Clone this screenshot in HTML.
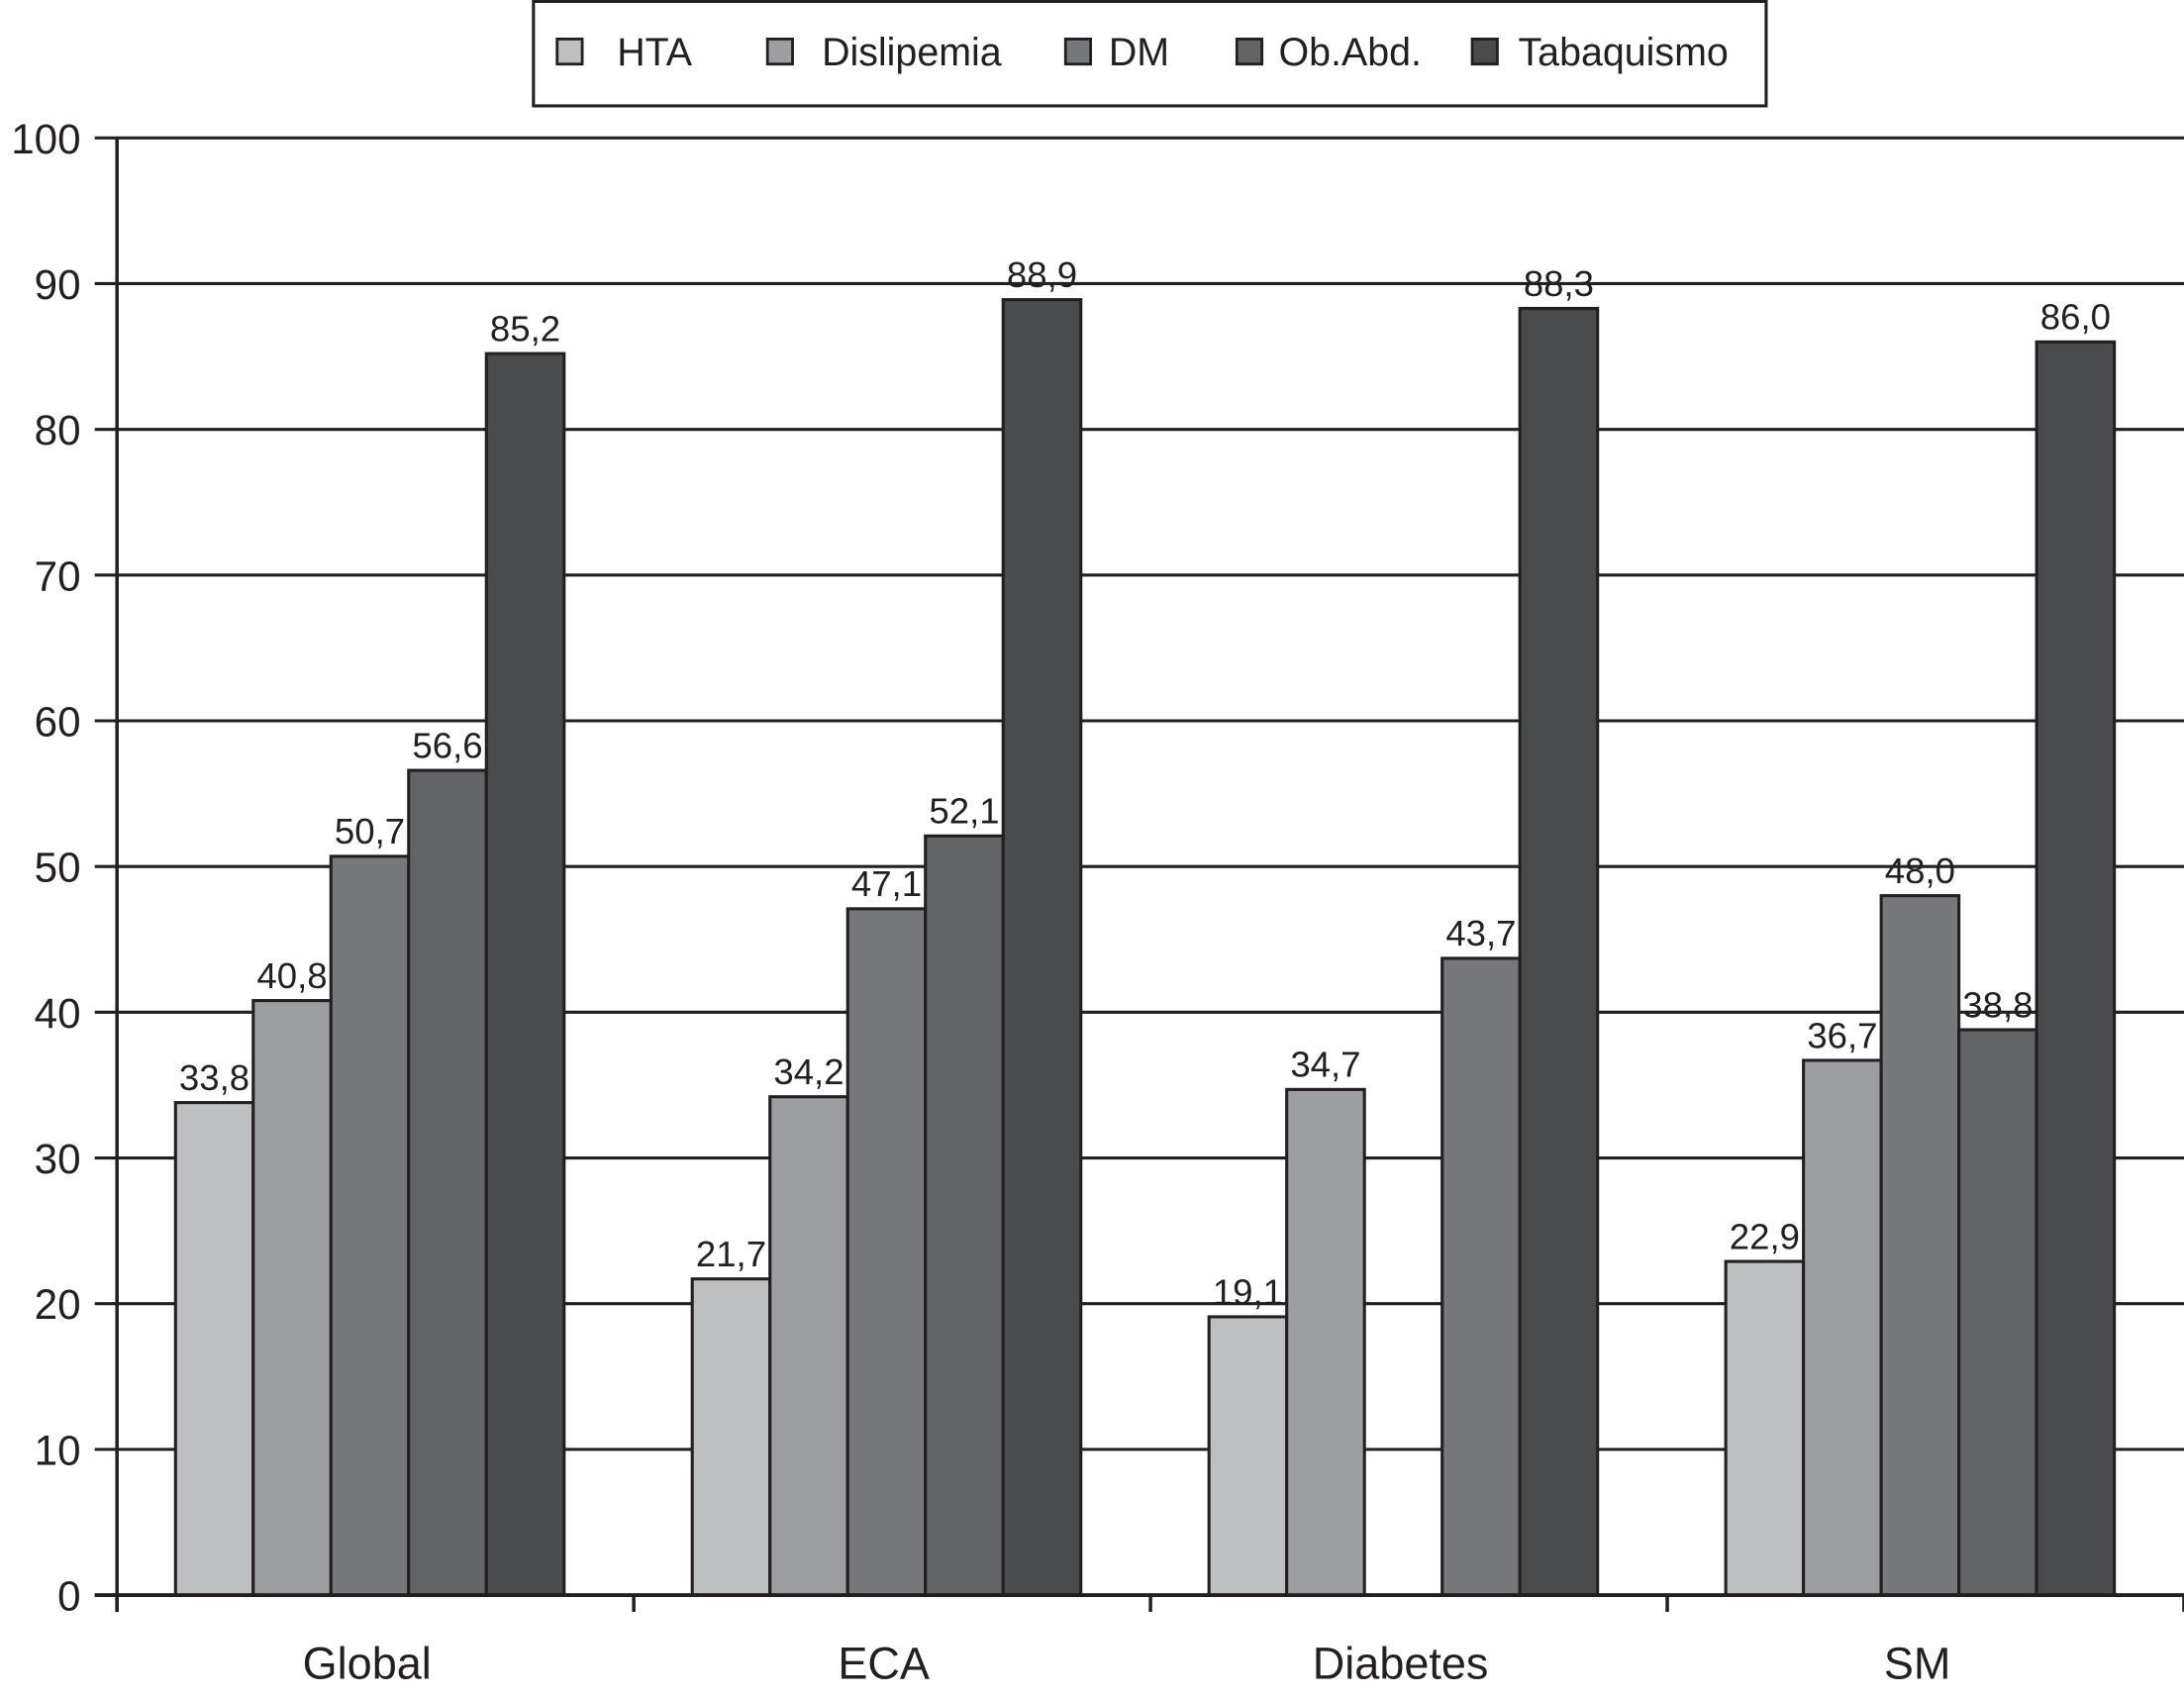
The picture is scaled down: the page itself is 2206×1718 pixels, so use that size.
<!DOCTYPE html>
<html><head><meta charset="utf-8"><style>
html,body{margin:0;padding:0;background:#fff;}
svg{display:block;}
text{font-family:"Liberation Sans",Arial,sans-serif;fill:#231f20;}
</style></head><body>
<svg id="chart" width="2206" height="1718" viewBox="0 0 1568 1221" preserveAspectRatio="none" xmlns="http://www.w3.org/2000/svg"></svg>
<script>
const categories = ["Global","ECA","Diabetes","SM"];
const seriesNames = ["HTA","Dislipemia","DM","Ob.Abd.","Tabaquismo"];
const htaValues = [33.8,21.7,19.1,22.9];
const dislipemiaValues = [40.8,34.2,34.7,36.7];
const dmValues = [50.7,47.1,null,48.0];
const obAbdValues = [56.6,52.1,43.7,38.8];
const tabaquismoValues = [85.2,88.9,88.3,86.0];
const yTicks = [0,10,20,30,40,50,60,70,80,90,100];
const colors = ["#bebfc1","#9d9ea1","#77787b","#636466","#4a4b4d"];
const series = [htaValues,dislipemiaValues,dmValues,obAbdValues,tabaquismoValues];

const svg = document.getElementById('chart');
const NS = "http://www.w3.org/2000/svg";
const x0 = 84, x1 = 1568, yZero = 1145, yTop = 99;
const groupW = (x1 - x0) / categories.length;
const barW = 55.8;
const yScale = v => yZero - (v / 100) * (yZero - yTop);
const xBar = (g, s) => x0 + g * groupW + 42 + s * barW;

function mk(tag, attrs) {
  const e = document.createElementNS(NS, tag);
  for (const k in attrs) e.setAttribute(k, attrs[k]);
  svg.appendChild(e);
  return e;
}

yTicks.forEach(t => {
  const y = yScale(t);
  const l = mk('line', {x1: 68, x2: 1568, y1: y, y2: y, stroke: "#231f20", "stroke-width": 2.2});
  
  
  const tx = mk('text', {x: 58, y: y + 11, "text-anchor": "end", "font-size": 30});
  tx.textContent = t;
  
  
});
const ya = mk('line', {x1: x0, x2: x0, y1: yTop, y2: 1157, stroke: "#231f20", "stroke-width": 2.5});


for (let g = 0; g <= categories.length; g++) {
  const x = x0 + g * groupW;
  const tk = mk('line', {x1: x, x2: x, y1: yZero, y2: 1157, stroke: "#231f20", "stroke-width": 2.5});
  
  
}
categories.forEach((c, g) => {
  const t = mk('text', {x: x0 + g * groupW + groupW / 2 - 6, y: 1205, "text-anchor": "middle", "font-size": 32});
  t.textContent = c;
  
  
});
series.forEach((vals, s) => {
  vals.forEach((v, g) => {
    if (v === null) return;
    const x = xBar(g, s), y = yScale(v);
    // Diabetes group: the value in the Ob.Abd. slot is drawn in DM shade in the reference
    const fill = (s === 3 && dmValues[g] === null) ? colors[2] : colors[s];
    const r = mk('rect', {x: x, y: y, width: barW, height: yZero - y, fill: fill, stroke: "#231f20", "stroke-width": 2.2});
    
    
    const t = mk('text', {x: x + barW / 2, y: y - 9, "text-anchor": "middle", "font-size": 26});
    t.textContent = v.toFixed(1).replace('.', ',');
    
    
  });
});
const xa = mk('line', {x1: 68, x2: 1568, y1: yZero, y2: yZero, stroke: "#231f20", "stroke-width": 2.8});


const lb = mk('rect', {x: 383, y: 1, width: 885, height: 75, fill: "#fff", stroke: "#231f20", "stroke-width": 2.2});


const sqX = [400, 551, 765, 888, 1057];
const txX = [443, 590, 796, 918, 1090];
seriesNames.forEach((n, s) => {
  const r = mk('rect', {x: sqX[s], y: 28, width: 18, height: 18, fill: colors[s], stroke: "#231f20", "stroke-width": 2});
  
  
  const t = mk('text', {x: txX[s], y: 47, "font-size": 28});
  t.textContent = n;
  
  
});
</script>
</body></html>
